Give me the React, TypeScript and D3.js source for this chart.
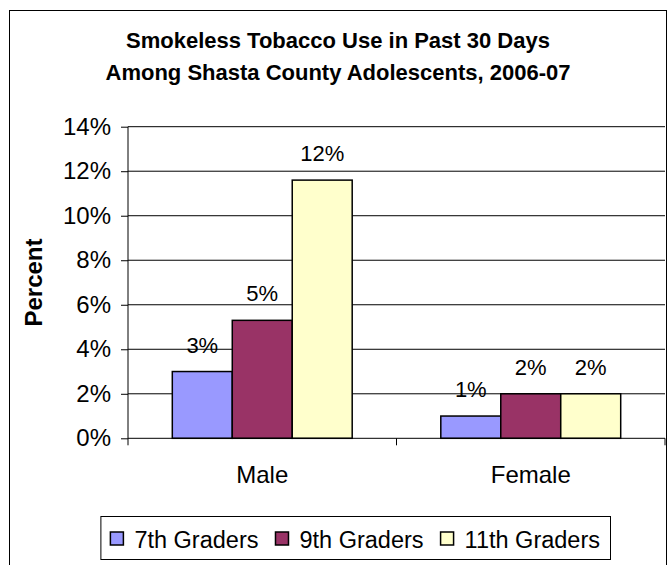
import { useEffect, useRef } from 'react';
import * as d3 from 'd3';

const categories = ['Male', 'Female'];
const grades = ['7th Graders', '9th Graders', '11th Graders'];
const male = [3.0, 5.3, 11.6];
const female = [1.0, 2.0, 2.0];
const yTicks = [0, 2, 4, 6, 8, 10, 12, 14];
const colors = ['#9999FF', '#993366', '#FFFFCC'];
const titleLines = ['Smokeless Tobacco Use in Past 30 Days', 'Among Shasta County Adolescents, 2006-07'];

const FONT = '"Liberation Sans", Arial, Helvetica, sans-serif';

export default function App() {
    const svgRef = useRef<SVGSVGElement>(null);

    useEffect(() => {
        if (!svgRef.current) return;
        const width = 668;
        const height = 565;
        d3.select(svgRef.current).selectAll('*').remove();

        const svg = d3
            .select(svgRef.current)
            .attr('width', width)
            .attr('height', height)
            .style('font-family', FONT);

        svg.append('rect').attr('width', width).attr('height', height).attr('fill', '#fff');

        // chart frame
        svg.append('rect')
            .attr('x', 9.5)
            .attr('y', 10.5)
            .attr('width', 657)
            .attr('height', 570)
            .attr('fill', 'none')
            .attr('stroke', '#000')
            .attr('stroke-width', 1);

        // title
        titleLines.forEach((line, i) => {
            svg.append('text')
                .attr('x', 338)
                .attr('y', 48 + i * 32)
                .attr('text-anchor', 'middle')
                .attr('font-size', 22)
                .attr('font-weight', 'bold')
                .text(line);
        });

        const plot = { left: 128, right: 665, top: 126.7, bottom: 438.3 };

        const y = d3.scaleLinear().domain([0, 14]).range([plot.bottom, plot.top]);
        const x0 = d3.scaleBand().domain(categories).range([plot.left, plot.right]);
        const gap = x0.bandwidth() * 0.165;
        const x1 = d3.scaleBand().domain(grades).range([gap, x0.bandwidth() - gap]);

        // gridlines
        svg.append('g')
            .selectAll('line')
            .data(yTicks.filter((t) => t > 0))
            .enter()
            .append('line')
            .attr('x1', plot.left)
            .attr('x2', plot.right)
            .attr('y1', (d) => y(d))
            .attr('y2', (d) => y(d))
            .attr('stroke', '#000')
            .attr('stroke-width', 1);

        // y axis
        const yAxis = d3
            .axisLeft(y)
            .tickValues(yTicks)
            .tickSize(7)
            .tickPadding(10)
            .tickFormat((d) => `${d}%`);
        const yg = svg.append('g').attr('transform', `translate(${plot.left},0)`).call(yAxis);
        yg.select('.domain').remove();
        yg.selectAll('line').attr('stroke', '#000');
        yg.selectAll('text').attr('font-size', 24).attr('font-family', FONT).attr('fill', '#000');
        svg.append('line')
            .attr('x1', plot.left)
            .attr('x2', plot.left)
            .attr('y1', plot.top)
            .attr('y2', plot.bottom)
            .attr('stroke', '#000');

        // y title
        svg.append('text')
            .attr('transform', `translate(42,${(plot.top + plot.bottom) / 2}) rotate(-90)`)
            .attr('text-anchor', 'middle')
            .attr('font-size', 24)
            .attr('font-weight', 'bold')
            .text('Percent');

        // bars
        const series = [male, female];
        categories.forEach((cat, ci) => {
            const g = svg.append('g').attr('transform', `translate(${x0(cat)},0)`);
            grades.forEach((gr, gi) => {
                const v = series[ci][gi];
                g.append('rect')
                    .attr('x', x1(gr)!)
                    .attr('y', y(v))
                    .attr('width', x1.bandwidth())
                    .attr('height', y(0) - y(v))
                    .attr('fill', colors[gi])
                    .attr('stroke', '#000')
                    .attr('stroke-width', 1.5);
                g.append('text')
                    .attr('x', x1(gr)! + x1.bandwidth() / 2)
                    .attr('y', y(v) - 19)
                    .attr('text-anchor', 'middle')
                    .attr('font-size', 22)
                    .text(`${d3.format('.0f')(v)}%`);
            });
        });

        // x axis
        svg.append('line')
            .attr('x1', plot.left)
            .attr('x2', plot.right)
            .attr('y1', plot.bottom)
            .attr('y2', plot.bottom)
            .attr('stroke', '#000');
        const bounds = [...categories.map((c) => x0(c)!), plot.right];
        bounds.forEach((bx) => {
            svg.append('line')
                .attr('x1', bx)
                .attr('x2', bx)
                .attr('y1', plot.bottom)
                .attr('y2', plot.bottom + 7)
                .attr('stroke', '#000');
        });
        categories.forEach((cat) => {
            svg.append('text')
                .attr('x', x0(cat)! + x0.bandwidth() / 2)
                .attr('y', 483)
                .attr('text-anchor', 'middle')
                .attr('font-size', 24)
                .text(cat);
        });

        // legend
        const legend = svg.append('g');
        const items = legend.append('g');
        let cx = 0;
        grades.forEach((gr, i) => {
            items.append('rect')
                .attr('x', cx)
                .attr('y', 532)
                .attr('width', 13)
                .attr('height', 13)
                .attr('fill', colors[i])
                .attr('stroke', '#000')
                .attr('stroke-width', 1.5);
            const t = items
                .append('text')
                .attr('x', cx + 24)
                .attr('y', 548)
                .attr('font-size', 23.5)
                .text(gr);
            const w = (t.node() as SVGTextElement).getComputedTextLength();
            cx += 24 + w + 17;
        });
        const total = cx - 17;
        const boxRight = 610;
        const boxLeft = boxRight - total - 20;
        items.attr('transform', `translate(${boxLeft + 10},0)`);
        legend.insert('rect', ':first-child')
            .attr('x', boxLeft + 0.5)
            .attr('y', 516.5)
            .attr('width', boxRight - boxLeft)
            .attr('height', 43)
            .attr('fill', '#fff')
            .attr('stroke', '#000');
    }, []);

    return (
        <div style={{ position: 'absolute', left: 0, top: 0 }}>
            <svg ref={svgRef} style={{ display: 'block' }} />
        </div>
    );
}
